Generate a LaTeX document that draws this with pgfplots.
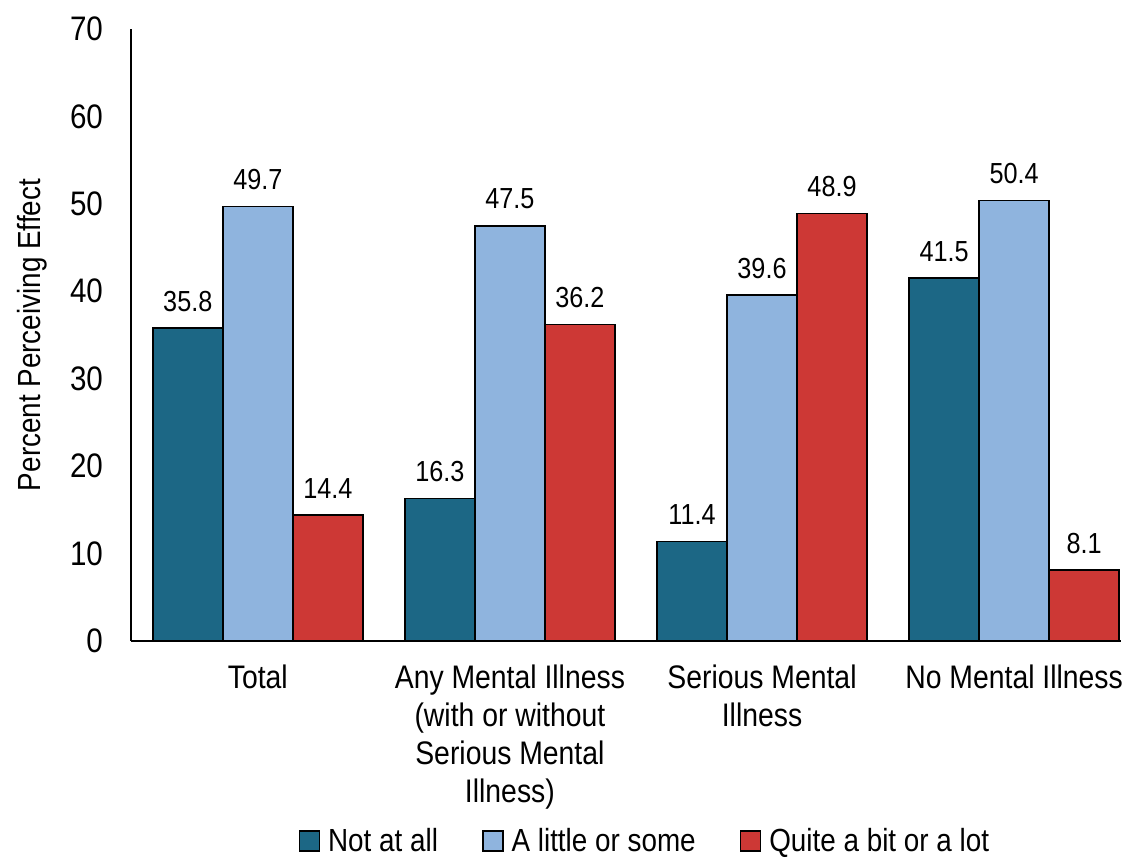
\documentclass[border=0pt]{standalone}
\usepackage{fontspec}
\setmainfont{Liberation Sans}[FakeStretch=0.87]
\usepackage{pgfplots}
\pgfplotsset{compat=1.18}
\definecolor{cdark}{RGB}{28,103,133}
\definecolor{clight}{RGB}{143,180,222}
\definecolor{cred}{RGB}{205,56,53}
\begin{document}
\begin{tikzpicture}
\begin{axis}[
    scale only axis,
    width=495pt, height=306pt,
    ybar=0pt,
    bar width=0.2777,
    xmin=-0.503, xmax=3.424,
    ymin=0, ymax=70,
    ytick={0,10,...,70},
    xtick={0,1,2,3},
    xticklabels={Total,
      {Any Mental Illness\\(with or without\\Serious Mental\\Illness)},
      {Serious Mental\\Illness},
      No Mental Illness},
    axis x line*=bottom,
    axis y line*=left,
    axis line style={line width=0.8pt},
    major tick length=0pt,
    /pgf/number format/assume math mode=true,
    yticklabel style={font=\fontsize{17}{19}\selectfont, xshift=-10.5pt},
    xticklabel style={font=\fontsize{16.3}{19}\selectfont, align=center, yshift=-8.5pt},
    ylabel={Percent Perceiving Effect},
    ylabel style={font=\fontsize{16}{19}\selectfont,
      at={([xshift=-49.5pt]axis description cs:0,0.5)}, anchor=center},
    nodes near coords,
    every node near coord/.append style={font=\fontsize{14.5}{17}\selectfont, yshift=4.5pt,
      /pgf/number format/fixed, /pgf/number format/fixed zerofill, /pgf/number format/precision=1,
      /pgf/number format/assume math mode=true},
    legend style={at={(0.52,-0.292)}, anchor=north, draw=none, legend columns=3,
      font=\fontsize{16}{19}\selectfont,
      /tikz/every odd column/.append style={column sep=2pt},
      /tikz/every even column/.append style={column sep=20pt}},
    legend image code/.code={\draw[#1,draw=black] (0pt,-5pt) rectangle (10pt,5pt);},
    every axis plot/.append style={draw=black, line width=0.8pt},
]
\addplot[fill=cdark] coordinates {(0,35.8) (1,16.3) (2,11.4) (3,41.5)};
\addplot[fill=clight] coordinates {(0,49.7) (1,47.5) (2,39.6) (3,50.4)};
\addplot[fill=cred] coordinates {(0,14.4) (1,36.2) (2,48.9) (3,8.1)};
\legend{Not at all, A little or some, Quite a bit or a lot}
\coordinate (bl) at (rel axis cs:0,0);
\coordinate (tr) at (rel axis cs:1,1);
\end{axis}
\pgfresetboundingbox
\path[use as bounding box] ([xshift=-65.5pt,yshift=-110pt]bl) rectangle ([xshift=5pt,yshift=14.5pt]tr);
\end{tikzpicture}
\end{document}
